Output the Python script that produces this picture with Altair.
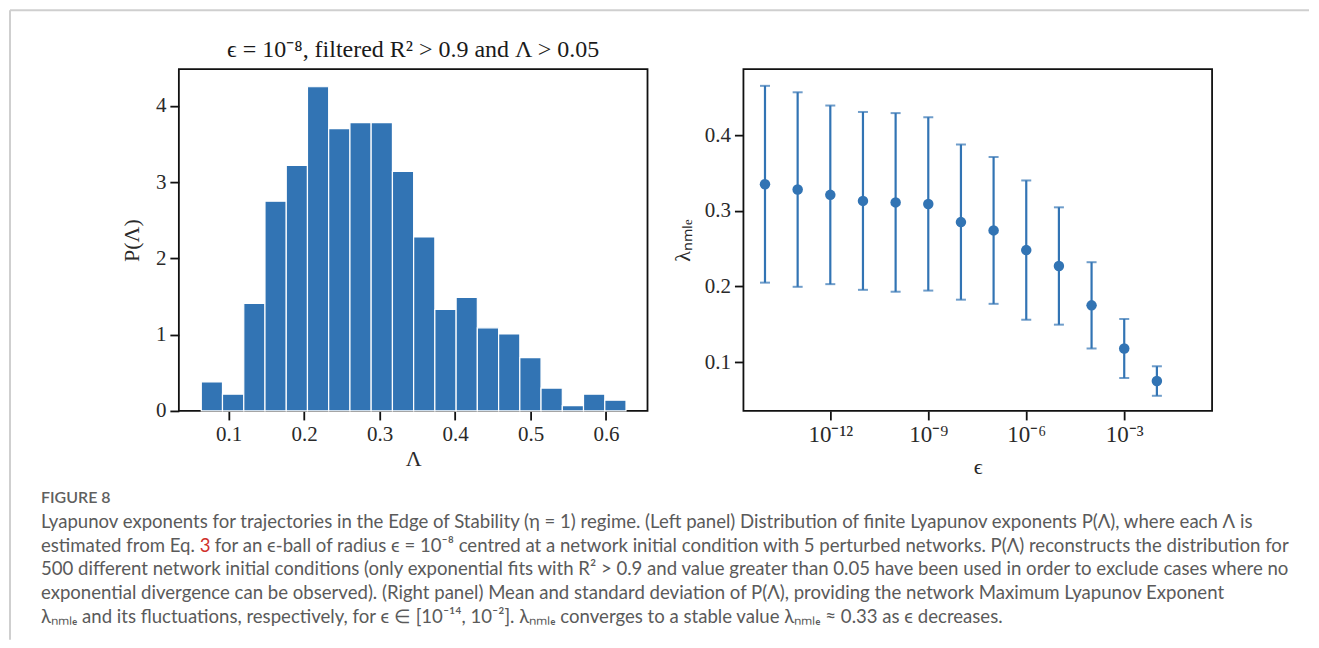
import altair as alt
import pandas as pd

# ---------------- data ----------------
# left panel: histogram of finite Lyapunov exponents (density)
bin_edges = [0.0637, 0.0918, 0.1200, 0.1481, 0.1763, 0.2044, 0.2325, 0.2607,
             0.2888, 0.3170, 0.3451, 0.3732, 0.4014, 0.4295, 0.4577, 0.4858,
             0.5139, 0.5421, 0.5702, 0.5984, 0.6265]
density = [0.38, 0.22, 1.41, 2.75, 3.22, 4.25, 3.70, 3.78, 3.78, 3.14,
           2.28, 1.33, 1.49, 1.09, 1.01, 0.70, 0.30, 0.07, 0.22, 0.14]
lam_ticks = [0.1, 0.2, 0.3, 0.4, 0.5, 0.6]
p_ticks = [0, 1, 2, 3, 4]

# right panel: mean and std of lambda_nMLE vs epsilon
eps = [1e-14, 1e-13, 1e-12, 1e-11, 1e-10, 1e-9, 1e-8, 1e-7, 1e-6, 1e-5,
       1e-4, 1e-3, 1e-2]
lam_mean = [0.335, 0.328, 0.321, 0.313, 0.311, 0.309, 0.285, 0.274, 0.248,
            0.227, 0.175, 0.118, 0.075]
lam_std = [0.130, 0.1285, 0.118, 0.1175, 0.118, 0.1145, 0.1025, 0.097,
           0.092, 0.0775, 0.057, 0.039, 0.0195]
eps_ticks = [1e-12, 1e-9, 1e-6, 1e-3]
eps_tick_labels = ["10⁻¹²", "10⁻⁹", "10⁻⁶", "10⁻³"]
lamn_ticks = [0.1, 0.2, 0.3, 0.4]

title_text = "ϵ = 10⁻⁸, filtered R² > 0.9 and Λ > 0.05"
figure_label = "FIGURE 8"
caption_lines = [
    "Lyapunov exponents for trajectories in the Edge of Stability (η = 1) regime. (Left panel) Distribution of finite Lyapunov exponents P(Λ), where each Λ is",
    "",
    "500 different network initial conditions (only exponential fits with R² > 0.9 and value greater than 0.05 have been used in order to exclude cases where no",
    "exponential divergence can be observed). (Right panel) Mean and standard deviation of P(Λ), providing the network Maximum Lyapunov Exponent",
    "λₙₘₗₑ and its fluctuations, respectively, for ϵ ∈ [10⁻¹⁴, 10⁻²]. λₙₘₗₑ converges to a stable value λₙₘₗₑ ≈ 0.33 as ϵ decreases.",
]
line2_a = "estimated from Eq."
line2_ref = "3"
line2_b = "for an ϵ-ball of radius ϵ = 10⁻⁸ centred at a network initial condition with 5 perturbed networks. P(Λ) reconstructs the distribution for"

# ---------------- tables ----------------
hist_df = pd.DataFrame({"lo": bin_edges[:-1], "hi": bin_edges[1:], "density": density})
hist_df["base"] = 0.0
err_df = pd.DataFrame({"eps": eps, "mean": lam_mean, "std": lam_std})
err_df["lo"] = err_df["mean"] - err_df["std"]
err_df["hi"] = err_df["mean"] + err_df["std"]
cap_df = pd.DataFrame({"row": list(range(len(caption_lines))), "line": caption_lines})

BLUE = "#3274b4"
SERIF = "Liberation Serif"
CAPFONT = "Lato"
CAPSIZE = 18.6
CAPCOLOR = "#5a5a5a"
FRAME = "#cfcfcf"
W, H = 469, 342

axis_common = dict(
    grid=False, domain=False, ticks=True, tickSize=9, tickWidth=1.8,
    tickColor="#111111", labelFont=SERIF, labelColor="#2a2a2a",
    titleFont=SERIF, titleFontSize=22, titleColor="#2a2a2a", titleFontWeight="normal",
    labelPadding=4,
)

def text_layer(txt, x, y, **kw):
    return alt.Chart(pd.DataFrame({"t": [txt]})).mark_text(**kw).encode(
        text="t:N", x=alt.value(x), y=alt.value(y))

# ---------------- left panel ----------------
bars = alt.Chart(hist_df).mark_bar(color=BLUE, stroke="white", strokeWidth=1.2).encode(
    x=alt.X("lo:Q", scale=alt.Scale(domain=[0.034, 0.655], nice=False, zero=False),
            axis=alt.Axis(values=lam_ticks, format=".1f", title="Λ", titlePadding=4,
                          labelFontSize=21, **axis_common)),
    x2="hi:Q",
    y=alt.Y("density:Q", scale=alt.Scale(domain=[0, 4.48], nice=False),
            axis=alt.Axis(values=p_ticks, format="d", title="P(Λ)", titlePadding=12,
                          labelFontSize=21, **axis_common)),
    y2="base:Q",
)

title_mark = text_layer(title_text, W / 2, -12, align="center", baseline="alphabetic",
                        font=SERIF, fontSize=24, color="#1a1a1a")

fig_text = text_layer(figure_label, -138, 429, align="left", baseline="middle", font=CAPFONT,
                      fontSize=16, color="#5f5f5f", fontWeight=600)

cap_text = alt.Chart(cap_df).mark_text(
    align="left", baseline="middle", font=CAPFONT, fontSize=CAPSIZE, color=CAPCOLOR,
).encode(
    text="line:N",
    x=alt.value(-138),
    y=alt.Y("row:Q", scale=alt.Scale(domain=[0, 4], range=[453, 548]), axis=None),
)

cap_kw = dict(align="left", baseline="middle", font=CAPFONT, fontSize=CAPSIZE)
l2a = text_layer(line2_a, -138, 477, color=CAPCOLOR, **cap_kw)
l2r = text_layer(line2_ref, 21, 477, color="#d0312d", **cap_kw)
l2b = text_layer(line2_b, 36, 477, color=CAPCOLOR, **cap_kw)

# light figure frame (top and left edges of the article figure box)
frame_df = pd.DataFrame({"k": [0]})
frame_top = alt.Chart(frame_df).mark_rule(color=FRAME, strokeWidth=2).encode(
    x=alt.value(-169), x2=alt.value(1131), y=alt.value(-59))
frame_left = alt.Chart(frame_df).mark_rule(color=FRAME, strokeWidth=2).encode(
    x=alt.value(-169), y=alt.value(-59), y2=alt.value(571))

left = alt.layer(bars, title_mark, fig_text, cap_text, l2a, l2r, l2b, frame_top, frame_left
                 ).resolve_scale(y="independent").properties(width=W, height=H)

# ---------------- right panel ----------------
label_expr = "".join(
    f"abs(datum.value - {t!r}) < {t * 0.01!r} ? '{l}' : " for t, l in zip(eps_ticks, eps_tick_labels)
) + "''"

y_scale = alt.Scale(domain=[0.0355, 0.487], nice=False, zero=False)
x_eps = alt.X("eps:Q", scale=alt.Scale(type="log", domain=[10 ** -14.66, 10 ** -0.31], nice=False),
              axis=alt.Axis(values=eps_ticks, labelExpr=label_expr, title="ϵ", titlePadding=10,
                            labelFontSize=23, **axis_common))

base = alt.Chart(err_df)
rules = base.mark_rule(color=BLUE, strokeWidth=2.2).encode(
    x=x_eps,
    y=alt.Y("lo:Q", scale=y_scale,
            axis=alt.Axis(values=lamn_ticks, format=".1f", title="λₙₘₗₑ", titlePadding=10,
                          labelFontSize=21, **axis_common)),
    y2="hi:Q")
cap_lo = base.mark_tick(color=BLUE, thickness=2, size=10, orient="horizontal").encode(
    x="eps:Q", y="lo:Q")
cap_hi = base.mark_tick(color=BLUE, thickness=2, size=10, orient="horizontal").encode(
    x="eps:Q", y="hi:Q")
pts = base.mark_circle(color=BLUE, size=110, opacity=1).encode(x="eps:Q", y="mean:Q")

right = alt.layer(rules, cap_lo, cap_hi, pts).properties(width=W, height=H)

chart = alt.hconcat(left, right, spacing=96, bounds="flush").properties(
    padding={"left": 0, "top": 0, "right": 0, "bottom": 0},
).configure_view(stroke="#111111", strokeWidth=1.8)

chart.save("out.html", embed_options={"renderer": "svg", "actions": False})
